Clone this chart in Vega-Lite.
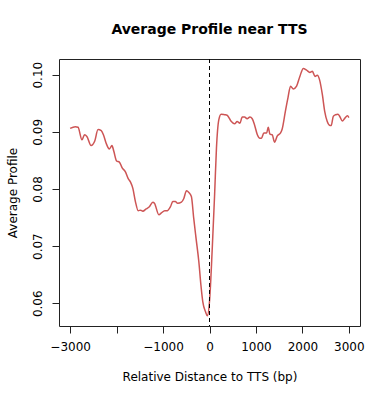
{
  "$schema": "https://vega.github.io/schema/vega-lite/v6.json",
  "autosize": "none",
  "width": 301,
  "height": 267,
  "padding": {"left": 59, "top": 59, "right": 30, "bottom": 74},
  "background": "white",
  "config": {
    "font": "DejaVu Sans",
    "view": {"stroke": "#222", "strokeWidth": 1},
    "axis": {"grid": false, "domain": false, "tickColor": "#222", "tickSize": 7, "labelColor": "black", "labelFontSize": 12, "titleFontSize": 12, "titleFontWeight": "normal", "titleColor": "black", "labelFont": "DejaVu Sans", "titleFont": "DejaVu Sans"}
  },
  "title": {"text": "Average Profile near TTS", "fontSize": 14, "fontWeight": "bold", "font": "DejaVu Sans", "color": "black", "anchor": "middle", "offset": 22},
  "data": {"values": [
    {"x": -3000, "y": 0.0906}, {"x": -2890, "y": 0.0909}, {"x": -2830, "y": 0.0908}, {"x": -2745, "y": 0.0886},
    {"x": -2690, "y": 0.0895}, {"x": -2640, "y": 0.0892}, {"x": -2550, "y": 0.0876}, {"x": -2470, "y": 0.0884},
    {"x": -2400, "y": 0.0904}, {"x": -2330, "y": 0.0902}, {"x": -2280, "y": 0.0894}, {"x": -2225, "y": 0.0880},
    {"x": -2155, "y": 0.0870}, {"x": -2100, "y": 0.0876}, {"x": -2060, "y": 0.0866}, {"x": -2000, "y": 0.0849},
    {"x": -1940, "y": 0.0847}, {"x": -1880, "y": 0.0837}, {"x": -1810, "y": 0.0830}, {"x": -1750, "y": 0.0818},
    {"x": -1700, "y": 0.0812}, {"x": -1650, "y": 0.0801}, {"x": -1595, "y": 0.0778}, {"x": -1535, "y": 0.0762},
    {"x": -1485, "y": 0.0763}, {"x": -1435, "y": 0.0761}, {"x": -1365, "y": 0.0765}, {"x": -1295, "y": 0.0769},
    {"x": -1220, "y": 0.0777}, {"x": -1185, "y": 0.0775}, {"x": -1090, "y": 0.0755}, {"x": -1035, "y": 0.0758},
    {"x": -965, "y": 0.0762}, {"x": -910, "y": 0.0762}, {"x": -840, "y": 0.0769}, {"x": -790, "y": 0.0778},
    {"x": -735, "y": 0.0778}, {"x": -685, "y": 0.0775}, {"x": -605, "y": 0.0777}, {"x": -555, "y": 0.0783},
    {"x": -495, "y": 0.0797}, {"x": -445, "y": 0.0794}, {"x": -390, "y": 0.0787}, {"x": -340, "y": 0.0749},
    {"x": -290, "y": 0.0714}, {"x": -230, "y": 0.0673}, {"x": -185, "y": 0.0632}, {"x": -145, "y": 0.0603},
    {"x": -85, "y": 0.0585}, {"x": -45, "y": 0.0578}, {"x": 0, "y": 0.0603}, {"x": 60, "y": 0.0697},
    {"x": 110, "y": 0.0790}, {"x": 150, "y": 0.0872}, {"x": 200, "y": 0.0921}, {"x": 250, "y": 0.0931},
    {"x": 325, "y": 0.0930}, {"x": 380, "y": 0.0929}, {"x": 470, "y": 0.0918}, {"x": 540, "y": 0.0914},
    {"x": 595, "y": 0.0918}, {"x": 655, "y": 0.0915}, {"x": 705, "y": 0.0926}, {"x": 755, "y": 0.0926},
    {"x": 810, "y": 0.0923}, {"x": 870, "y": 0.0926}, {"x": 920, "y": 0.0923}, {"x": 970, "y": 0.0912},
    {"x": 1030, "y": 0.0895}, {"x": 1085, "y": 0.0889}, {"x": 1120, "y": 0.0889}, {"x": 1170, "y": 0.0898},
    {"x": 1230, "y": 0.0898}, {"x": 1265, "y": 0.0908}, {"x": 1300, "y": 0.0896}, {"x": 1350, "y": 0.0895},
    {"x": 1400, "y": 0.0882}, {"x": 1460, "y": 0.0893}, {"x": 1530, "y": 0.0898}, {"x": 1565, "y": 0.0905},
    {"x": 1640, "y": 0.0939}, {"x": 1690, "y": 0.0960}, {"x": 1745, "y": 0.0980}, {"x": 1805, "y": 0.0975},
    {"x": 1875, "y": 0.0980}, {"x": 1945, "y": 0.0997}, {"x": 2020, "y": 0.1011}, {"x": 2090, "y": 0.1008},
    {"x": 2160, "y": 0.1004}, {"x": 2215, "y": 0.1006}, {"x": 2270, "y": 0.0997}, {"x": 2320, "y": 0.0999},
    {"x": 2370, "y": 0.0991}, {"x": 2430, "y": 0.0965}, {"x": 2480, "y": 0.0936}, {"x": 2535, "y": 0.0918},
    {"x": 2595, "y": 0.0911}, {"x": 2620, "y": 0.0911}, {"x": 2665, "y": 0.0927}, {"x": 2715, "y": 0.0930},
    {"x": 2765, "y": 0.0931}, {"x": 2810, "y": 0.0926}, {"x": 2860, "y": 0.0919}, {"x": 2915, "y": 0.0924},
    {"x": 2970, "y": 0.0928}, {"x": 3000, "y": 0.0925}
  ]},
  "layer": [
    {
      "mark": {"type": "line", "color": "#CD5555", "strokeWidth": 1.5, "interpolate": "monotone"},
      "encoding": {
        "x": {"field": "x", "type": "quantitative", "scale": {"domain": [-3240, 3240], "nice": false, "zero": false},
          "axis": {"title": "Relative Distance to TTS (bp)", "values": [-3000, -2000, -1000, 0, 1000, 2000, 3000], "format": "d", "labelExpr": "datum.value == -2000 ? '' : datum.label", "labelPadding": 8, "titlePadding": 19, "labelFlush": false}},
        "y": {"field": "y", "type": "quantitative", "scale": {"domain": [0.05602, 0.10275], "nice": false, "zero": false},
          "axis": {"title": "Average Profile", "values": [0.06, 0.07, 0.08, 0.09, 0.10], "format": ".2f", "labelAngle": 270, "labelAlign": "center", "labelBaseline": "bottom", "labelPadding": 8, "titlePadding": 12, "labelFlush": false}}
      }
    },
    {
      "data": {"values": [{"x": 0}]},
      "mark": {"type": "rule", "color": "black", "strokeDash": [4, 3], "strokeWidth": 1},
      "encoding": {"x": {"field": "x", "type": "quantitative"}}
    }
  ]
}
